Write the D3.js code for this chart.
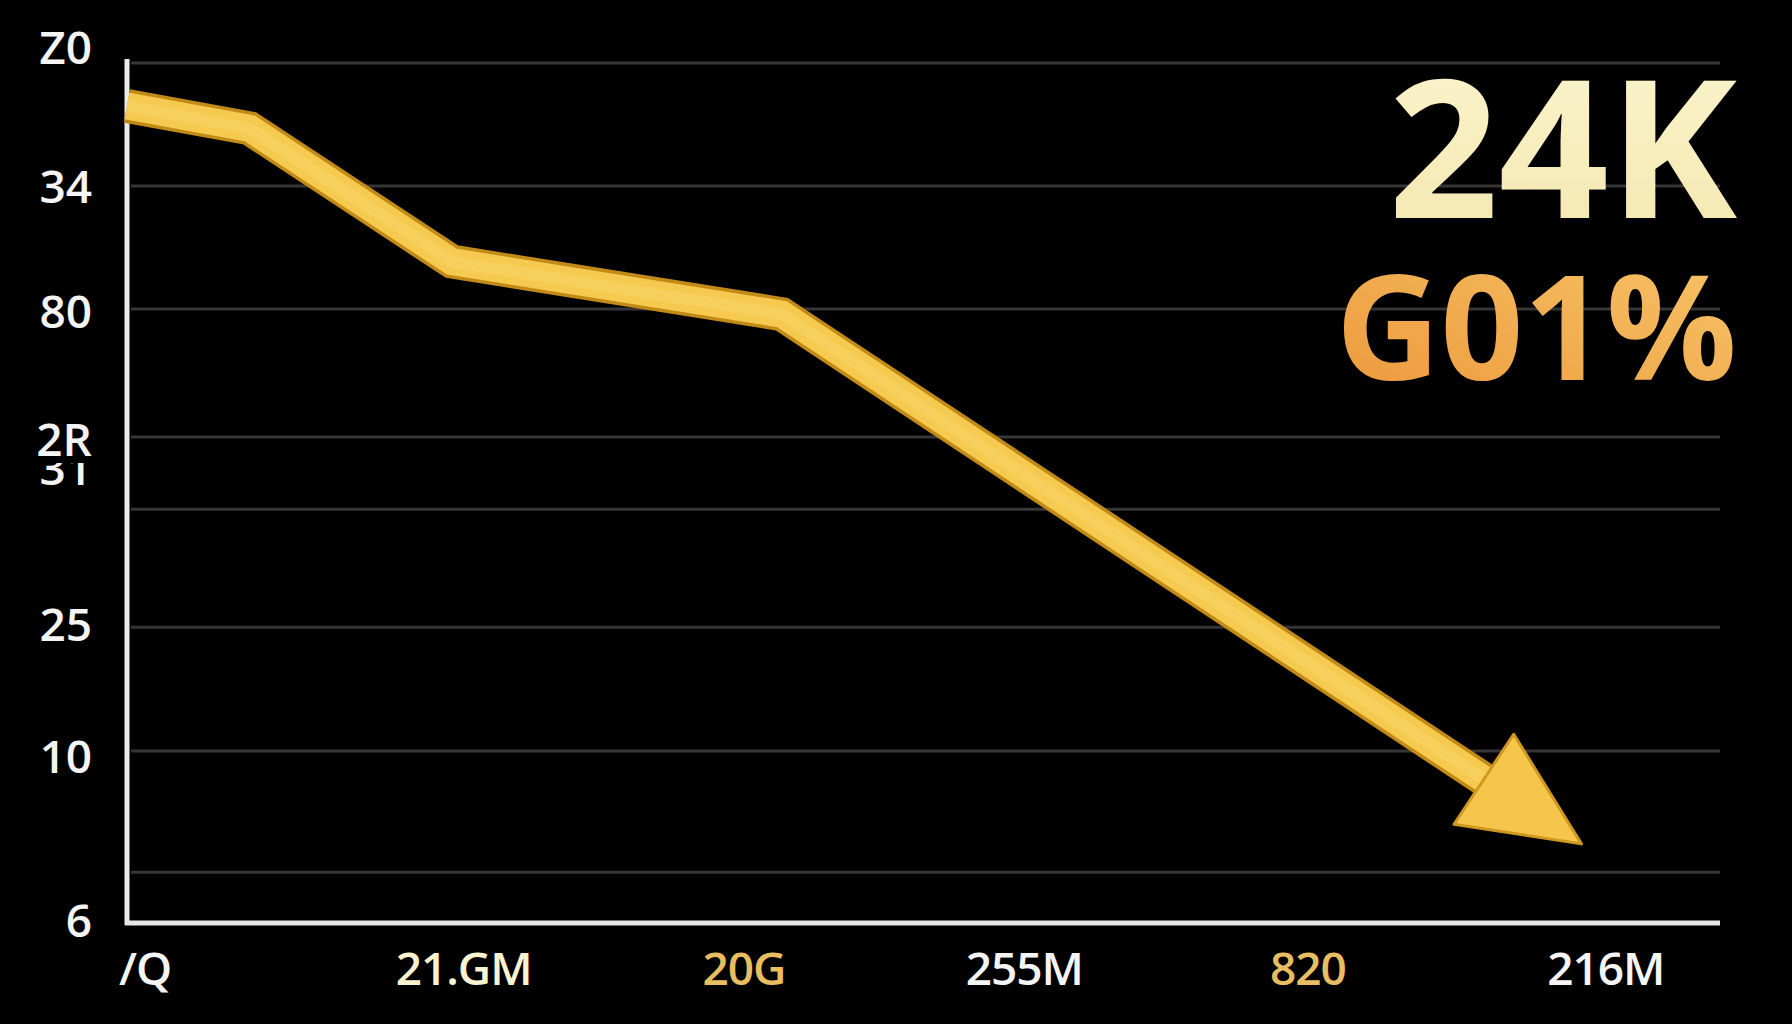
<!DOCTYPE html>
<html>
<head>
<meta charset="utf-8">
<script src="https://cdn.jsdelivr.net/npm/d3@7"></script>
<style>
  body { margin: 0; background: #000; }
  svg { display: block; }
</style>
</head>
<body>
<svg id="chart"></svg>
<script>
// chart values
var lineX = [0, 7.7, 20.4, 41.1, 91.3];
var lineY = [95.0, 92.4, 76.9, 70.8, 9.2];
var gridValues = [100, 85.7, 71.4, 56.5, 48.1, 34.4, 20.0, 5.9];
var yTickLabels = ["Z0", "34", "80", "2R", "25", "10", "6"];
var yTickValues = [101.9, 85.7, 71.2, 56.3, 34.8, 19.4, 0.3];
var ghostLabel = "31";
var ghostValue = 52.9;
var xTickLabels = ["/Q", "21.GM", "20G", "255M", "820", "216M"];
var xTickValues = [1.1, 21.1, 38.7, 56.3, 74.1, 92.8];
var headline = "24K";
var subline = "G01%";

var width = 1792, height = 1024;
var margin = { top: 63, right: 72, bottom: 101, left: 127 };

var svg = d3.select("#chart")
  .attr("width", width)
  .attr("height", height)
  .style("background", "#000");

var x = d3.scaleLinear().domain([0, 100]).range([margin.left, width - margin.right]);
var y = d3.scaleLinear().domain([0, 100]).range([height - margin.bottom, margin.top]);

var defs = svg.append("defs");
var g1 = defs.append("linearGradient").attr("id", "cream").attr("x1", 0).attr("y1", 0).attr("x2", 0).attr("y2", 1);
g1.append("stop").attr("offset", "0%").attr("stop-color", "#fcf6d2");
g1.append("stop").attr("offset", "100%").attr("stop-color", "#f3e6ab");
var g2 = defs.append("linearGradient").attr("id", "orange").attr("x1", 0).attr("y1", 1).attr("x2", 1).attr("y2", 0);
g2.append("stop").attr("offset", "0%").attr("stop-color", "#ec963a");
g2.append("stop").attr("offset", "100%").attr("stop-color", "#f7c76a");
// only the lower part of the hidden label shows
defs.append("clipPath").attr("id", "ghostClip")
  .append("rect").attr("x", 0).attr("y", y(ghostValue) - 5).attr("width", margin.left).attr("height", 30);

// gridlines
svg.append("g")
  .selectAll("line")
  .data(gridValues)
  .join("line")
  .attr("x1", x(0) + 4)
  .attr("x2", x(100))
  .attr("y1", function(d) { return y(d); })
  .attr("y2", function(d) { return y(d); })
  .attr("stroke", "#363636")
  .attr("stroke-width", 3);

// y labels
var yAxis = svg.append("g")
  .attr("transform", "translate(" + x(0) + ",0)")
  .call(d3.axisLeft(y).tickValues(yTickValues).tickSize(0).tickPadding(35)
    .tickFormat(function(d, i) { return yTickLabels[i]; }));
yAxis.select(".domain").remove();
yAxis.selectAll("text")
  .attr("dy", "0.36em")
  .attr("fill", "#f4f4f4")
  .style("font-family", "'Open Sans', sans-serif")
  .style("font-size", "46px")
  .style("font-weight", 600);

// half-hidden label under 2R
svg.append("text")
  .attr("clip-path", "url(#ghostClip)")
  .attr("x", x(0) - 35)
  .attr("y", y(ghostValue))
  .attr("dy", "0.36em")
  .attr("text-anchor", "end")
  .attr("fill", "#f4f4f4")
  .style("font-family", "'Open Sans', sans-serif")
  .style("font-size", "46px")
  .style("font-weight", 600)
  .text(ghostLabel);

// x labels
var labelColor = { "21.GM": "#fbf3cf", "20G": "#e9bd62", "820": "#e9bd62" };
var xAxis = svg.append("g")
  .attr("transform", "translate(0," + y(0) + ")")
  .call(d3.axisBottom(x).tickValues(xTickValues).tickSize(0).tickPadding(29)
    .tickFormat(function(d, i) { return xTickLabels[i]; }));
xAxis.select(".domain").remove();
xAxis.selectAll("text")
  .attr("fill", function(d, i) { return labelColor[xTickLabels[i]] || "#f4f4f4"; })
  .style("font-family", "'Open Sans', sans-serif")
  .style("font-size", "46px")
  .style("font-weight", 600)
  .style("letter-spacing", "-1px");

// axis lines
svg.append("line")
  .attr("x1", x(0)).attr("x2", x(0))
  .attr("y1", y(100) - 4).attr("y2", y(0) + 2)
  .attr("stroke", "#ececec").attr("stroke-width", 5);
svg.append("line")
  .attr("x1", x(0) - 2).attr("x2", x(100))
  .attr("y1", y(0)).attr("y2", y(0))
  .attr("stroke", "#e6e6e6").attr("stroke-width", 5);

// line with arrow head
var pts = lineX.map(function(d, i) { return [x(d), y(lineY[i])]; });
var tip = pts[pts.length - 1];
var prev = pts[pts.length - 2];
var dx = tip[0] - prev[0], dy = tip[1] - prev[1];
var len = Math.sqrt(dx * dx + dy * dy);
var ux = dx / len, uy = dy / len;
var headLen = 117, headHalf = 54;
var base = [tip[0] - ux * headLen, tip[1] - uy * headLen];
var shaft = pts.slice(0, -1).concat([[base[0] + ux * 6, base[1] + uy * 6]]);

var line = d3.line();
svg.append("path")
  .attr("d", line(shaft))
  .attr("fill", "none")
  .attr("stroke", "#c28a16")
  .attr("stroke-width", 34)
  .attr("stroke-linejoin", "miter");
svg.append("path")
  .attr("d", line(shaft))
  .attr("fill", "none")
  .attr("stroke", "#f6c94f")
  .attr("stroke-width", 27)
  .attr("stroke-linejoin", "miter");
svg.append("path")
  .attr("d", line(shaft))
  .attr("fill", "none")
  .attr("stroke", "#f9d466")
  .attr("stroke-width", 12)
  .attr("stroke-opacity", 0.6)
  .attr("stroke-linejoin", "miter");

var head = [
  tip,
  [base[0] - uy * headHalf, base[1] + ux * headHalf],
  [base[0] + uy * headHalf, base[1] - ux * headHalf]
];
svg.append("path")
  .attr("d", line(head) + "Z")
  .attr("fill", "#f6c64c")
  .attr("stroke", "#d19820")
  .attr("stroke-width", 3)
  .attr("stroke-linejoin", "round");

// big numbers
svg.append("text")
  .attr("x", 1737)
  .attr("y", 218)
  .attr("text-anchor", "end")
  .attr("fill", "url(#cream)")
  .style("font-family", "'Open Sans', sans-serif")
  .style("font-size", "193px")
  .style("font-weight", 700)
  .text(headline);
svg.append("text")
  .attr("x", 1737)
  .attr("y", 380)
  .attr("text-anchor", "end")
  .attr("fill", "url(#orange)")
  .style("font-family", "'Open Sans', sans-serif")
  .style("font-size", "145px")
  .style("font-weight", 700)
  .text(subline);
</script>
</body>
</html>
